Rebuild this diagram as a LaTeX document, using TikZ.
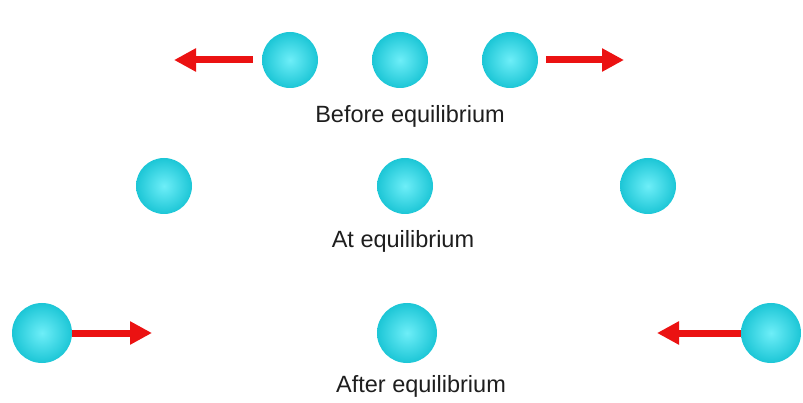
\documentclass[tikz,border=0pt]{standalone}
\usepackage{fontspec}
\setmainfont{Liberation Sans}
\usepackage{tikz}
\usetikzlibrary{arrows.meta, positioning}
\definecolor{ballin}{RGB}{110,238,248}
\definecolor{ballout}{RGB}{28,198,214}
\definecolor{pushred}{RGB}{235,18,18}
\definecolor{captext}{RGB}{30,30,30}

\begin{document}
\begin{tikzpicture}[x=1pt, y=-1pt,
  ball/.style={circle, inner sep=0pt, minimum size=56pt, shading=radial, inner color=ballin, outer color=ballout},
  bigball/.style={ball, minimum size=60pt},
  push/.style={draw=pushred, line width=7pt, -{Triangle[width=22pt, length=22pt]}},
  caption/.style={anchor=base, text=captext, font=\fontsize{23.5}{28}\selectfont}
]
\useasboundingbox (0,0) rectangle (803,403);

% before equilibrium
\node[ball] (bl) at (290,60)  {};
\node[ball] (bm) at (400,60)  {};
\node[ball] (br) at (510,60)  {};
\coordinate (tbl) at (174,60);
\coordinate (tbr) at (624,60);
\draw[push, shorten <=9pt] (bl) -- (tbl);
\draw[push, shorten <=8pt] (br) -- (tbr);
\node[caption] (before) at (410,123) {Before equilibrium};

% at equilibrium
\node[ball] (al) at (164,186) {};
\node[ball] (am) at (405,186) {};
\node[ball] (ar) at (648,186) {};
\node[caption] (at) at (403,248) {At equilibrium};

% after equilibrium
\node[bigball] (fl) at (42,333)  {};
\node[bigball] (fm) at (407,333) {};
\node[bigball] (fr) at (771,333) {};
\coordinate (tfl) at (152,333);
\coordinate (tfr) at (657,333);
\draw[push] (fl) -- (tfl);
\draw[push] (fr) -- (tfr);
\node[caption] (after) at (421,392) {After equilibrium};
\end{tikzpicture}
\end{document}
